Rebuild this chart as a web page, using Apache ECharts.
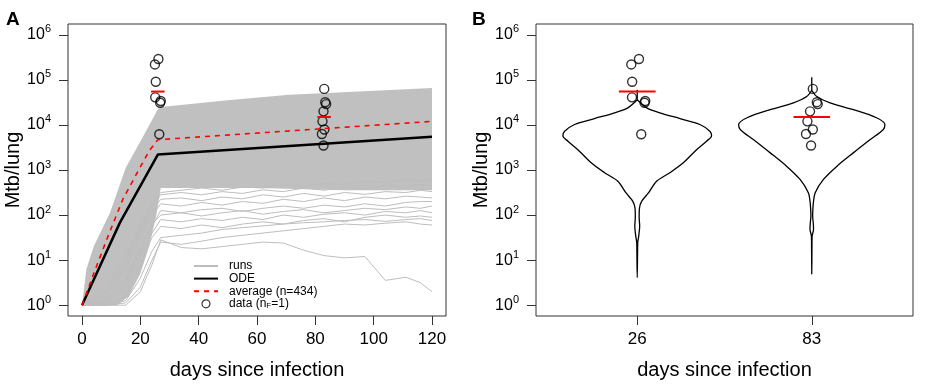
<!DOCTYPE html>
<html>
<head>
<meta charset="utf-8">
<script src="https://cdn.jsdelivr.net/npm/echarts@6/dist/echarts.min.js"></script>
<style>
  html, body { margin: 0; padding: 0; background: #fff; }
  #chart { width: 935px; height: 385px; }
</style>
</head>
<body>
<div id="chart"></div>
<script>
  // ---- panel A: ODE, average and runs ----
  var odeDays = [0, 13, 26, 120]
  var odeCounts = [1, 68, 2200, 5500]

  var avgDays = [0, 5, 9, 14, 19, 23, 26, 120]
  var avgCounts = [1, 7.4, 35, 224, 890, 2630, 4700, 12000]

  // dense band of the 434 runs (log10 Mtb/lung)
  var bandUpperDays = [0, 1.5, 4, 9.6, 15, 21, 26, 27, 50, 71, 95, 120]
  var bandUpperLog = [0, 0.8, 1.3, 2.05, 3.05, 3.75, 4.35, 4.4, 4.55, 4.67, 4.74, 4.82]
  var bandLowerDays = [0, 12, 16, 20, 23, 25.5, 27, 60, 90, 120]
  var bandLowerLog = [0, 0, 0.2, 0.7, 1.3, 2.0, 2.6, 2.6, 2.55, 2.55]

  // the runs that stand out below the band (log10 Mtb/lung)
  var runDays = [0, 8, 15, 20, 24, 27, 34, 41, 48, 55, 62, 69, 76, 83, 90, 97, 104, 111, 116, 120]
  var runsLog = [
    [0, 0, 0, 0.3, 0.9, 1.45, 1.28, 1.25, 1.3, 1.35, 1.4, 1.38, 1.22, 1.1, 1.05, 1.08, 0.55, 0.62, 0.5, 0.3],
    [0, 0, 0.05, 0.4, 1.0, 1.4, 1.35, 1.42, 1.5, 1.55, 1.6, 1.65, 1.7, 1.75, 1.8, 1.78, 1.82, 1.85, 1.8, 1.78],
    [0, 0, 0.1, 0.6, 1.2, 1.5, 1.55, 1.6, 1.68, 1.72, 1.76, 1.8, 1.83, 1.85, 1.88, 1.9, 1.86, 1.9, 1.92, 1.88],
    [0, 0, 0.2, 0.9, 1.5, 1.75, 1.7, 1.78, 1.72, 1.8, 1.85, 1.8, 1.88, 1.92, 1.85, 1.95, 2.0, 1.95, 1.98, 1.95],
    [0, 0.05, 0.4, 1.1, 1.6, 1.9, 1.85, 1.92, 1.88, 1.95, 1.9, 2.0, 1.95, 2.02, 2.05, 2.0, 2.08, 2.05, 2.1, 2.05],
    [0, 0.1, 0.6, 1.3, 1.8, 2.0, 2.05, 1.98, 2.05, 2.1, 2.02, 2.08, 2.12, 2.05, 2.1, 2.15, 2.12, 2.18, 2.15, 2.2],
    [0, 0.1, 0.5, 1.2, 1.75, 2.1, 2.05, 2.12, 2.15, 2.08, 2.15, 2.2, 2.15, 2.22, 2.18, 2.25, 2.2, 2.28, 2.3, 2.3],
    [0, 0.2, 0.8, 1.5, 2.0, 2.25, 2.2, 2.28, 2.22, 2.3, 2.26, 2.35, 2.3, 2.38, 2.32, 2.4, 2.36, 2.42, 2.4, 2.38],
    [0, 0.3, 0.9, 1.6, 2.1, 2.35, 2.38, 2.32, 2.4, 2.36, 2.45, 2.4, 2.48, 2.42, 2.5, 2.46, 2.52, 2.5, 2.55, 2.52],
    [0, 0.3, 1.0, 1.7, 2.2, 2.45, 2.5, 2.45, 2.52, 2.48, 2.56, 2.52, 2.6, 2.55, 2.62, 2.58, 2.66, 2.62, 2.68, 2.65],
    [0, 0.4, 1.1, 1.8, 2.25, 2.5, 2.55, 2.6, 2.55, 2.62, 2.6, 2.68, 2.64, 2.7, 2.68, 2.75, 2.72, 2.78, 2.75, 2.8]
  ]

  // ---- data (both panels) ----
  var d26Counts = [2.9e5, 2.2e5, 9.1e4, 4.1e4, 3.4e4, 3.1e4, 6.2e3]
  var d26DaysA = [26.2, 25.0, 25.3, 25.1, 27.0, 26.8, 26.5]
  var d26PosB = [1.01, 0.966, 0.971, 0.97, 1.046, 1.042, 1.023]
  var d83Counts = [6.3e4, 3.2e4, 2.9e4, 2.0e4, 1.2e4, 7.9e3, 6.3e3, 3.5e3]
  var d83DaysA = [83.05, 83.4, 83.7, 82.8, 82.45, 83.1, 82.25, 82.8]
  var d83PosB = [2.006, 2.029, 2.034, 1.99, 1.975, 2.006, 1.967, 1.996]
  var meanCounts = [5.5e4, 1.5e4]

  // ---- panel B: violins ----
  var vioLabels = ['26', '83']
  var vio26Log = [4.56, 4.38, 4.27, 4.14, 4.01, 3.86, 3.76, 3.64, 3.45, 3.16, 2.94, 2.75, 2.49, 2.31, 2.16, 1.95, 1.76, 1.55, 1.39, 1.17, 0.61]
  var vio26Half = [0, 0.054, 0.13, 0.245, 0.359, 0.416, 0.426, 0.397, 0.34, 0.264, 0.187, 0.111, 0.064, 0.026, 0.013, 0.011, 0.014, 0.009, 0.003, 0.002, 0]
  var vio83Log = [4.77, 4.63, 4.49, 4.34, 4.16, 4.01, 3.9, 3.67, 3.38, 3.08, 2.79, 2.49, 2.27, 2.1, 1.98, 1.8, 1.68, 1.53, 1.2, 0.69]
  var vio83Half = [0, 0.029, 0.105, 0.238, 0.371, 0.419, 0.41, 0.333, 0.238, 0.143, 0.067, 0.019, 0.009, 0.006, 0.005, 0.009, 0.01, 0.002, 0.001, 0]
  var vioTopLog = [4.78, 5.06]

  var yTicks = [0, 1, 2, 3, 4, 5, 6]
  var xTicksA = [0, 20, 40, 60, 80, 100, 120]

  var FONT = 'Liberation Sans, Arial, Helvetica, sans-serif'
  var lg = function (v) { return Math.log10(v) }

  function violinPath (pos, logs, half) {
    var right = logs.map(function (y, i) { return [pos + half[i], y] })
    var left = logs.map(function (y, i) { return [pos - half[i], y] }).reverse()
    return right.concat(left.slice(1))
  }

  var bandPoly = bandUpperDays.map(function (d, i) { return [d, bandUpperLog[i]] })
    .concat(bandLowerDays.map(function (d, i) { return [d, bandLowerLog[i]] }).reverse())

  var hiddenLine = { show: false, onZero: false }

  function yAxis (gridIndex) {
    return {
      type: 'value', gridIndex: gridIndex, min: -0.24, max: 6.24,
      name: 'Mtb/lung', nameLocation: 'middle', nameGap: 44, nameRotate: 90,
      nameTextStyle: { fontFamily: FONT, fontSize: 20, color: '#000' },
      axisLine: hiddenLine,
      splitLine: { show: false },
      axisTick: { customValues: yTicks, length: 9, lineStyle: { color: '#333', width: 1 } },
      axisLabel: {
        customValues: yTicks, margin: 17, color: '#000', fontFamily: FONT,
        formatter: function (v) { return '{b|10}{e|' + Math.round(v) + '}' },
        rich: {
          b: { fontSize: 16, lineHeight: 22, fontFamily: FONT, color: '#000' },
          e: { fontSize: 11, lineHeight: 8, verticalAlign: 'top', fontFamily: FONT, color: '#000' }
        }
      }
    }
  }

  var xName = {
    name: 'days since infection', nameLocation: 'middle', nameGap: 44,
    nameTextStyle: { fontFamily: FONT, fontSize: 20, color: '#000' }
  }

  var series = []
  series.push({
    name: 'band', type: 'custom', xAxisIndex: 0, yAxisIndex: 0, silent: true,
    data: [bandPoly[0]],
    renderItem: function (params, api) {
      return {
        type: 'polygon',
        shape: { points: bandPoly.map(function (p) { return api.coord(p) }) },
        style: { fill: '#c0c0c0' }
      }
    }
  })
  runsLog.forEach(function (r) {
    series.push({
      name: 'runs', type: 'line', xAxisIndex: 0, yAxisIndex: 0, symbol: 'none', silent: true,
      lineStyle: { color: '#bdbdbd', width: 1 },
      data: runDays.map(function (d, i) { return [d, r[i]] })
    })
  })
  series.push({
    name: 'ODE', type: 'line', xAxisIndex: 0, yAxisIndex: 0, symbol: 'none',
    lineStyle: { color: '#000', width: 2.5 },
    data: odeDays.map(function (d, i) { return [d, lg(odeCounts[i])] })
  })
  series.push({
    name: 'average (n=434)', type: 'line', xAxisIndex: 0, yAxisIndex: 0, symbol: 'none',
    lineStyle: { color: '#ff0000', width: 1.6, type: [5, 5] },
    data: avgDays.map(function (d, i) { return [d, lg(avgCounts[i])] })
  })
  ;[26, 83].forEach(function (day, k) {
    series.push({
      name: 'meanA' + k, type: 'line', xAxisIndex: 0, yAxisIndex: 0, symbol: 'none',
      lineStyle: { color: '#ff0000', width: 2 },
      data: [[day - 2.3, lg(meanCounts[k])], [day + 2.3, lg(meanCounts[k])]]
    })
  })
  var circle = {
    type: 'scatter', symbol: 'circle', symbolSize: 9,
    itemStyle: { color: 'rgba(0,0,0,0)', borderColor: '#000', borderWidth: 1.4 }
  }
  series.push(Object.assign({}, circle, {
    name: 'data', xAxisIndex: 0, yAxisIndex: 0,
    data: d26DaysA.map(function (d, i) { return [d, lg(d26Counts[i])] })
      .concat(d83DaysA.map(function (d, i) { return [d, lg(d83Counts[i])] }))
  }))

  // panel B
  ;[[vio26Log, vio26Half], [vio83Log, vio83Half]].forEach(function (v, k) {
    var pos = k + 1
    series.push({
      name: 'violin' + k, type: 'line', xAxisIndex: 1, yAxisIndex: 1, symbol: 'none', smooth: 0.3,
      lineStyle: { color: '#000', width: 1.3 },
      data: violinPath(pos, v[0], v[1])
    })
    series.push({
      name: 'whisker' + k, type: 'line', xAxisIndex: 1, yAxisIndex: 1, symbol: 'none',
      lineStyle: { color: '#000', width: 1.3 },
      data: [[pos, v[0][0]], [pos, vioTopLog[k]]]
    })
    series.push({
      name: 'meanB' + k, type: 'line', xAxisIndex: 1, yAxisIndex: 1, symbol: 'none',
      lineStyle: { color: '#ff0000', width: 2 },
      data: [[pos - 0.105, lg(meanCounts[k])], [pos + 0.105, lg(meanCounts[k])]]
    })
  })
  series.push(Object.assign({}, circle, {
    name: 'dataB', xAxisIndex: 1, yAxisIndex: 1,
    data: d26PosB.map(function (p, i) { return [p, lg(d26Counts[i])] })
      .concat(d83PosB.map(function (p, i) { return [p, lg(d83Counts[i])] }))
  }))

  var noSymbol = { color: 'rgba(0,0,0,0)', borderColor: 'rgba(0,0,0,0)', borderWidth: 0 }

  var chart = echarts.init(document.getElementById('chart'))
  var option = {
    animation: false,
    textStyle: { fontFamily: FONT },
    grid: [
      { left: 68, top: 24, width: 378, height: 293, show: true, borderColor: '#333', borderWidth: 1 },
      { left: 536, top: 24, width: 377, height: 293, show: true, borderColor: '#333', borderWidth: 1 }
    ],
    graphic: [
      { type: 'text', left: 6, top: 10, style: { text: 'A', font: 'bold 19px ' + FONT, fill: '#000' } },
      { type: 'text', left: 472, top: 10, style: { text: 'B', font: 'bold 19px ' + FONT, fill: '#000' } }
    ],
    legend: {
      data: [
        { name: 'runs', itemStyle: noSymbol },
        { name: 'ODE', itemStyle: noSymbol },
        { name: 'average (n=434)', itemStyle: noSymbol },
        { name: 'data', itemStyle: { color: 'rgba(0,0,0,0)', borderColor: '#000', borderWidth: 1.2 } }
      ],
      orient: 'vertical', left: 193, top: 260, padding: 0,
      itemWidth: 24, itemHeight: 8, itemGap: 0.6, selectedMode: false,
      formatter: function (name) {
        if (name === 'data') return '{t|data (n}{s|F}{t|=1)}'
        return name
      },
      textStyle: {
        fontFamily: FONT, fontSize: 12, color: '#000', padding: [0, 0, 0, 6],
        rich: {
          t: { fontFamily: FONT, fontSize: 12, lineHeight: 12, color: '#000' },
          s: { fontFamily: FONT, fontSize: 8, lineHeight: 6, verticalAlign: 'bottom', color: '#000' }
        }
      }
    },
    xAxis: [
      Object.assign({
        type: 'value', gridIndex: 0, min: -4.8, max: 124.8,
        axisLine: hiddenLine, splitLine: { show: false },
        axisTick: { customValues: xTicksA, length: 9, lineStyle: { color: '#333' } },
        axisLabel: { customValues: xTicksA, margin: 15, fontSize: 17, color: '#000', fontFamily: FONT }
      }, xName),
      Object.assign({
        type: 'value', gridIndex: 1, min: 0.42, max: 2.58,
        axisLine: hiddenLine, splitLine: { show: false },
        axisTick: { customValues: [1, 2], length: 9, lineStyle: { color: '#333' } },
        axisLabel: {
          customValues: [1, 2], margin: 15, fontSize: 17, color: '#000', fontFamily: FONT,
          formatter: function (v) { return vioLabels[Math.round(v) - 1] }
        }
      }, xName)
    ],
    yAxis: [yAxis(0), yAxis(1)],
    series: series
  }
  chart.setOption(option)
</script>
</body>
</html>
